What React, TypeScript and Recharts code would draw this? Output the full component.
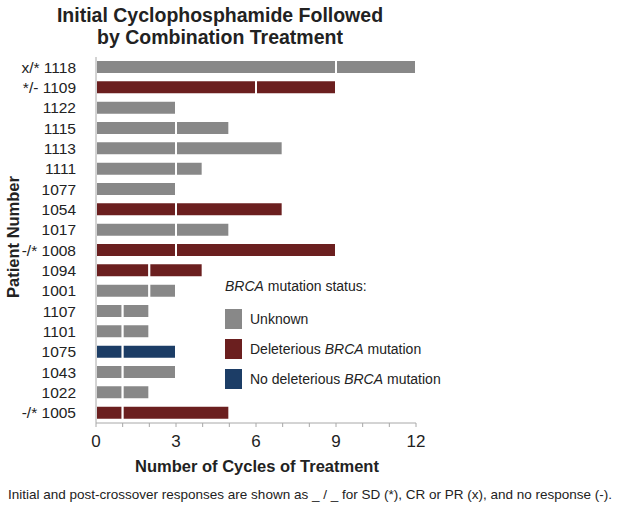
import React from "react";
import { BarChart, Bar, XAxis, YAxis, Cell } from "recharts";

const patients = ["x/* 1118", "*/- 1109", "1122", "1115", "1113", "1111", "1077", "1054", "1017", "-/* 1008", "1094", "1001", "1107", "1101", "1075", "1043", "1022", "-/* 1005"];
const initialCycles = [9, 6, 3, 3, 3, 3, 3, 3, 3, 3, 2, 2, 1, 1, 1, 1, 1, 1];
const combinationCycles = [3, 3, 0, 2, 4, 1, 0, 4, 2, 6, 2, 1, 1, 1, 2, 2, 1, 4];
const status = ["U", "D", "U", "U", "U", "U", "U", "D", "U", "D", "D", "U", "U", "U", "N", "U", "U", "D"];
const xTicks = [0, 1, 2, 3, 4, 5, 6, 7, 8, 9, 10, 11, 12];

const COLORS: Record<string, string> = { U: "#888888", D: "#6b1f1f", N: "#1c3d66" };
const legendItems = [
  { key: "U", label: <>Unknown</> },
  { key: "D", label: <>Deleterious <i>BRCA</i> mutation</> },
  { key: "N", label: <>No deleterious <i>BRCA</i> mutation</> },
];

const data = patients.map((p, i) => ({
  patient: p,
  initial: initialCycles[i],
  combination: combinationCycles[i],
  status: status[i],
}));

const FONT = "'Liberation Sans', Arial, sans-serif";

export default function App() {
  return (
    <div style={{ position: "absolute", left: 0, top: 0, width: 620, height: 513, background: "#fff", fontFamily: FONT }}>
      <div style={{ position: "absolute", left: 0, width: 440, top: 4, textAlign: "center", fontWeight: "bold", fontSize: 19.5, lineHeight: "22px", color: "#222", whiteSpace: "nowrap" }}>
        Initial Cyclophosphamide Followed<br />by Combination Treatment
      </div>
      <BarChart
        width={620}
        height={513}
        data={data}
        layout="vertical"
        margin={{ top: 57, right: 204, bottom: 60, left: 0 }}
        barCategoryGap={0}
      >
        <XAxis
          type="number"
          domain={[0, 12]}
          ticks={xTicks}
          interval={0}
          tickFormatter={(v: number) => (v % 3 === 0 ? String(v) : "")}
          axisLine={{ stroke: "#a8a8a8" }}
          tickLine={{ stroke: "#a8a8a8" }}
          tickSize={4}
          tick={{ fill: "#222", fontSize: 17, fontFamily: FONT }}
          tickMargin={8}
          height={30}
        />
        <YAxis
          type="category"
          dataKey="patient"
          width={96}
          interval={0}
          axisLine={{ stroke: "#a8a8a8" }}
          tickLine={false}
          tick={{ fill: "#222", fontSize: 15.5, fontFamily: FONT }}
          tickMargin={14}
        />
        <Bar dataKey="initial" stackId="a" barSize={14} stroke="#ffffff" strokeWidth={2} isAnimationActive={false}>
          {data.map((d, i) => (
            <Cell key={i} fill={COLORS[d.status]} />
          ))}
        </Bar>
        <Bar dataKey="combination" stackId="a" barSize={14} stroke="#ffffff" strokeWidth={2} isAnimationActive={false}>
          {data.map((d, i) => (
            <Cell key={i} fill={COLORS[d.status]} />
          ))}
        </Bar>
      </BarChart>
      <div style={{ position: "absolute", left: 225, top: 278, fontSize: 14, color: "#222" }}>
        <div style={{ marginBottom: 10 }}><i>BRCA</i> mutation status:</div>
        {legendItems.map((it) => (
          <div key={it.key} style={{ display: "flex", alignItems: "center", height: 30 }}>
            <div style={{ width: 17, height: 20, background: COLORS[it.key], marginRight: 8 }} />
            <span style={{ whiteSpace: "nowrap" }}>{it.label}</span>
          </div>
        ))}
      </div>
      <div style={{ position: "absolute", left: 13, top: 237, lineHeight: "16px", transform: "translate(-50%, -50%) rotate(-90deg)", whiteSpace: "nowrap", fontWeight: "bold", fontSize: 16.5, color: "#222" }}>
        Patient Number
      </div>
      <div style={{ position: "absolute", left: 97, width: 320, top: 457, textAlign: "center", fontWeight: "bold", fontSize: 16.5, color: "#222", whiteSpace: "nowrap" }}>
        Number of Cycles of Treatment
      </div>
      <div style={{ position: "absolute", left: 0, width: 620, top: 487, textAlign: "center", fontSize: 13.5, color: "#222", whiteSpace: "nowrap" }}>
        Initial and post-crossover responses are shown as _ / _ for SD (*), CR or PR (x), and no response (-).
      </div>
    </div>
  );
}
